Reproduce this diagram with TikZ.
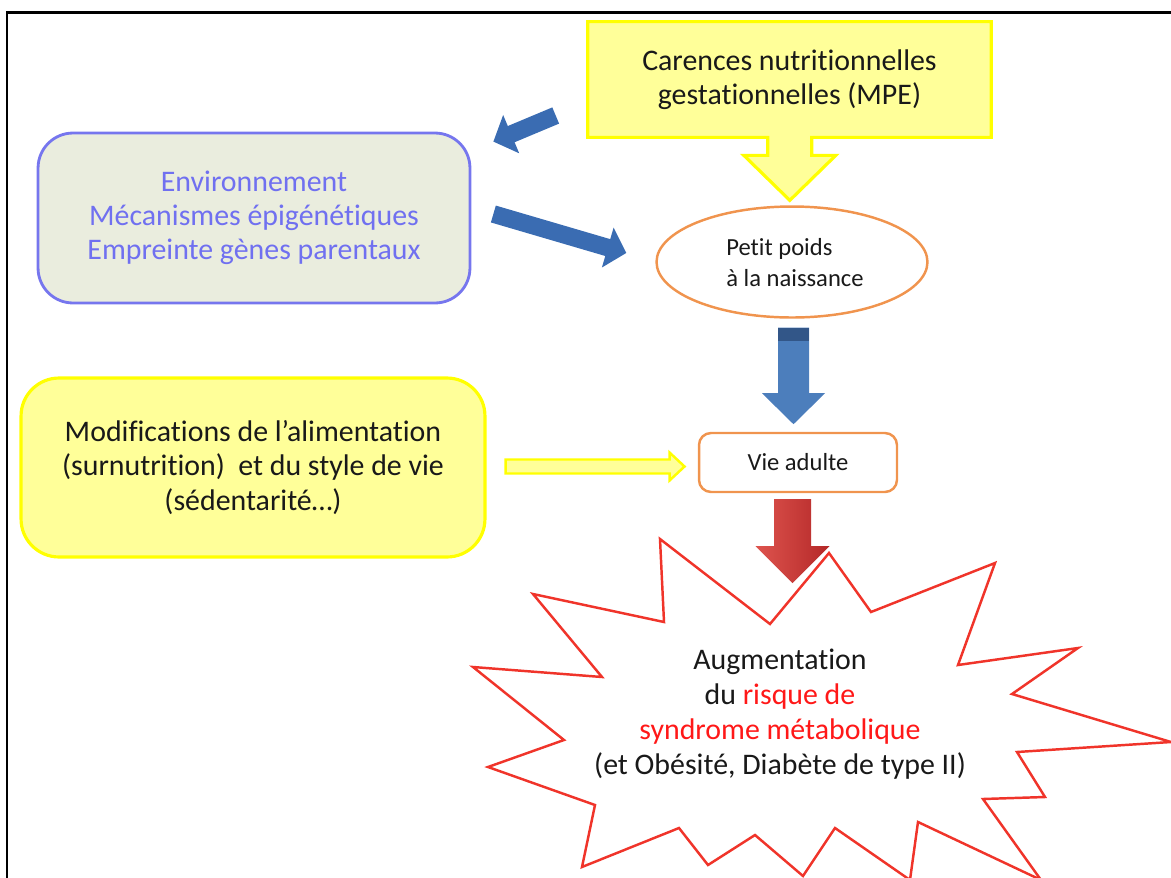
\documentclass[tikz,border=0pt]{standalone}
\usepackage{fontspec}
\setmainfont{Carlito}[Ligatures=NoCommon]
\usetikzlibrary{arrows.meta,shapes.geometric,calc,backgrounds}

\definecolor{paleyellow}{RGB}{255,255,153}
\definecolor{brightyellow}{RGB}{255,255,0}
\definecolor{violettext}{RGB}{112,112,240}
\definecolor{violetline}{RGB}{118,118,238}
\definecolor{greyfill}{RGB}{234,237,222}
\definecolor{orangeline}{RGB}{240,148,78}
\definecolor{arrowblue}{RGB}{58,108,178}
\definecolor{downblue}{RGB}{76,126,188}
\definecolor{darkblue}{RGB}{50,86,136}
\definecolor{lightred}{RGB}{222,84,78}
\definecolor{darkred}{RGB}{180,40,40}
\definecolor{starred}{RGB}{240,52,42}
\definecolor{textred}{RGB}{255,24,24}

\tikzset{
	txt/.style={font=\fontsize{17}{19.5}\selectfont,align=center,text=black!90},
	smalltxt/.style={font=\fontsize{14}{17.6}\selectfont,text=black!90},
	yellowcallout/.style={draw=brightyellow,fill=paleyellow,line width=1.8pt,line join=miter},
	bluebox/.style={txt,text=violettext,draw=violetline,fill=greyfill,line width=1.6pt,rounded corners=0.7cm,minimum width=8.64cm,minimum height=3.4cm},
	yellowbox/.style={txt,draw=brightyellow,fill=paleyellow,line width=1.8pt,rounded corners=0.76cm,minimum width=9.28cm,minimum height=3.58cm},
	orangeoval/.style={smalltxt,ellipse,draw=orangeline,line width=1.4pt,align=left,minimum width=5.42cm,minimum height=2.22cm},
	orangebox/.style={smalltxt,draw=orangeline,line width=1.4pt,rounded corners=0.24cm,minimum width=3.96cm,minimum height=1.18cm},
	bluearrow/.style={arrowblue,line width=10pt,-{Triangle[length=11pt,width=23pt]}},
	hollowarrow/.style={draw=brightyellow,fill=paleyellow,line width=1.4pt,line join=miter},
	starline/.style={draw=starred,fill=white,line width=1.4pt,line join=miter}
}

\begin{document}
\begin{tikzpicture}[x=0.02cm,y=-0.02cm]
\useasboundingbox (0,0) rectangle (1171,877);
\clip (0,0) rectangle (1171,877);

% frame
\draw[line width=1.7pt,line join=miter] (7,880) -- (7,12) -- (1175,12);

% boxes
\node[txt,minimum width=8.06cm,minimum height=2.3cm] (carences) at (789.5,79.5) {Carences nutritionnelles\\gestationnelles (MPE)};
\node[bluebox]   (envir)  at (254,218)   {Environnement\\Mécanismes épigénétiques\\Empreinte gènes parentaux};
\node[orangeoval,text depth=0pt,inner xsep=0pt] (petit) at (792,262) {\hspace{0.12cm}Petit poids\\\hspace{0.12cm}à la naissance};
\node[orangebox] (vie)    at (798,462.5) {Vie adulte};
\node[yellowbox] (modif)  at (253,467.5) {Modifications de l’alimentation\\(surnutrition)~ et du style de vie\\(sédentarité…)};

\begin{scope}[on background layer]
\draw[yellowcallout] (carences.north west) -- (carences.north east) -- (carences.south east)
	-- ++(-179.5,0) -- ++(0,18) -- ++(24,0) -- ++(-46,45) -- ++(-46,-45) -- ++(24,0) -- ++(0,-18)
	-- (carences.south west) -- cycle;
\end{scope}

% star
\draw[starline] (660,539) -- (770,624) -- (829,553) -- (871,612) -- (995,563) -- (958,665)
	-- (1078,648) -- (1012,694) -- (1171,742) -- (1017,752) -- (1045,797) -- (983,799)
	-- (1041,880) -- (918,822) -- (910,880) -- (835,828) -- (803,876) -- (755,835)
	-- (708,865) -- (679,828) -- (582,867) -- (595,805) -- (488,767) -- (564,740)
	-- (473,667) -- (602,677) -- (533,594) -- (664,622) -- cycle;
\node[txt,font=\fontsize{17}{19.9}\selectfont] (risque) at (780,714.5) {Augmentation\\du \textcolor{textred}{risque de}\\\textcolor{textred}{syndrome métabolique}\\(et Obésité, Diabète de type II)};

% blue arrows
\coordinate (a1s) at ($(carences.west)+(-32,36)$);
\coordinate (a1e) at ($(envir.north east)+(22,10)$);
\coordinate (a2s) at ($(envir.east)+(22,-4)$);
\coordinate (a2e) at ($(petit.west)+(-29,-9)$);
\draw[bluearrow] (a1s) -- (a1e);
\draw[bluearrow] (a2s) -- (a2e);

% down arrows
\coordinate (b0) at ($(petit.south)+(1.5,9)$);
\fill[downblue] (b0) ++(-15.5,0) -- ++(31,0) -- ++(0,65.5) -- ++(16,0) -- ($(b0)+(0,96.5)$)
	-- ($(b0)+(-31.5,65.5)$) -- ++(16,0) -- cycle;
\fill[darkblue] ($(b0)+(-15.5,0)$) rectangle ($(b0)+(15.5,13)$);

\coordinate (r0) at ($(vie.south)+(-5.5,6)$);
\shade[left color=lightred,right color=darkred] (r0) ++(-18.5,0) -- ++(37,0) -- ++(0,47) -- ++(18.5,0)
	-- ($(r0)+(0,84)$) -- ($(r0)+(-37,47)$) -- ++(18.5,0) -- cycle;

% yellow arrow
\coordinate (y0) at ($(modif.east)+(19,-1)$);
\draw[hollowarrow] (y0) ++(0,-7) -- ++(164,0) -- ++(0,-7) -- ($(y0)+(179,0)$) -- ($(y0)+(164,14)$)
	-- ++(0,-7) -- ($(y0)+(0,7)$) -- cycle;

\end{tikzpicture}
\end{document}
